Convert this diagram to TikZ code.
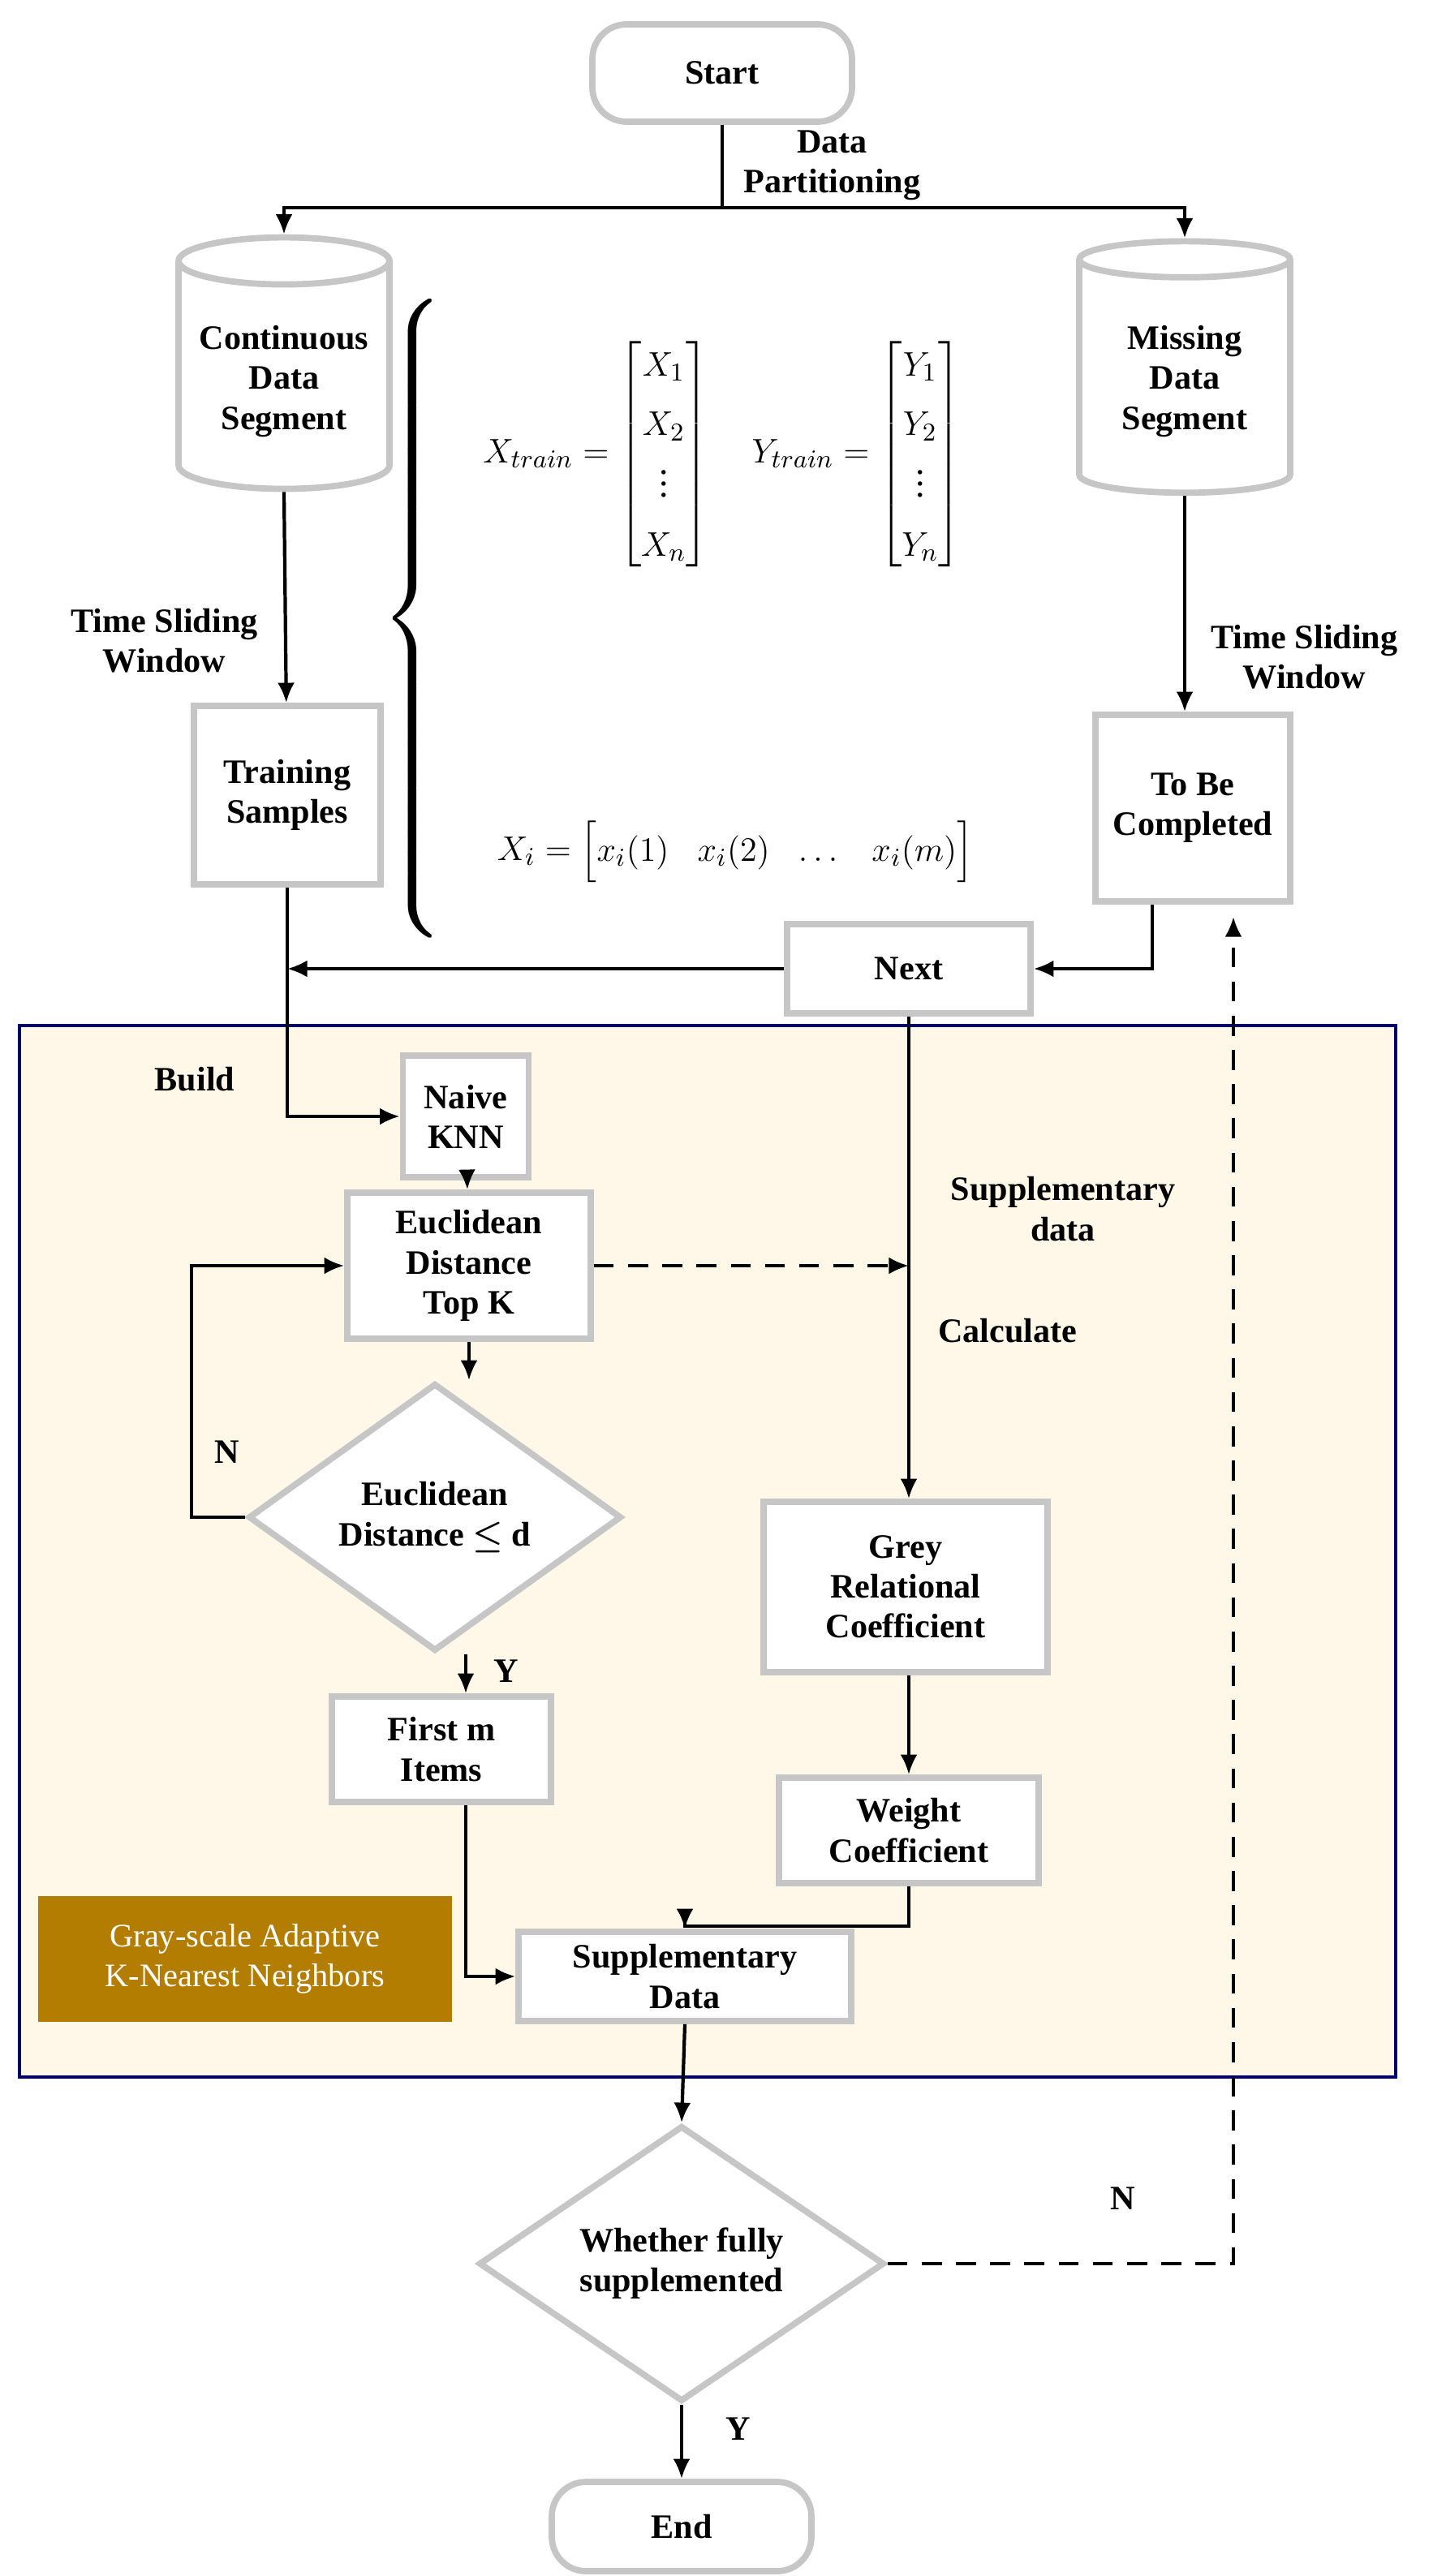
\documentclass[tikz,border=0pt]{standalone}
\usepackage{amsmath}
\usepackage{fontspec}
\setmainfont{Liberation Serif}
\usetikzlibrary{shapes.geometric,arrows.meta}
\tikzset{
  box/.style={draw=gray!45, line width=2.2pt, fill=white, align=center, font=\bfseries\fontsize{12}{14}\selectfont},
  term/.style={box, rounded corners=12pt},
  dec/.style={box, diamond, aspect=1.4, inner sep=1pt},
  db/.style={box, cylinder, shape border rotate=90, aspect=0.25},
  lbl/.style={font=\bfseries\fontsize{12}{14}\selectfont, align=center},
  arr/.style={-{Latex[length=7pt,width=6pt]}, line width=1.2pt},
  dasharr/.style={arr, dash pattern=on 7pt off 5pt}
}
\begin{document}
\begin{tikzpicture}[x=0.02cm,y=-0.02cm]
\useasboundingbox (0,0) rectangle (891,1587.5);
% panel
\draw[fill=yellow!40!orange!8, draw=blue!40!black, line width=1.2pt] (12,632) rectangle (860,1280);
\node[lbl] at (120,665) {Build};

% terminals and data
\node[term, minimum width=3.2cm, minimum height=1.2cm] (start) at (445,45) {Start};
\node[db, minimum width=2.6cm, minimum height=3.1cm] (cont) at (175,235) {Continuous\\Data\\Segment};
\node[db, minimum width=2.6cm, minimum height=3.1cm] (miss) at (730,235) {Missing\\Data\\Segment};
\coordinate (split) at (445,128);
\node[lbl, anchor=west] at (452,102) {Data\\Partitioning};
\draw[line width=1.2pt] (start) -- (split);
\draw[arr] (split) -| (cont.top);
\draw[arr] (split) -| (miss.top);

\node[box, minimum width=2.3cm, minimum height=2.2cm] (train) at (177,490) {Training\\Samples};
\node[box, minimum width=2.4cm, minimum height=2.3cm] (tbc) at (735,498) {To Be\\Completed};
\draw[arr] (cont.bottom) -- (train);
\draw[arr] (miss.bottom) -- (tbc.north -| miss.bottom);
\node[lbl, anchor=east] at (165,395) {Time Sliding\\Window};
\node[lbl, anchor=west] at (740,405) {Time Sliding\\Window};

% formulas
\node at (255,380) {\fontsize{40}{40}\selectfont$\left\{\vphantom{\rule{0pt}{4.2cm}}\right.$};
\node (mat) at (445,280) {\fontsize{13}{16}\selectfont\renewcommand{\arraystretch}{1.3}$X_{train}=\begin{bmatrix}X_1\\X_2\\\vdots\\X_n\end{bmatrix}\quad Y_{train}=\begin{bmatrix}Y_1\\Y_2\\\vdots\\Y_n\end{bmatrix}$};
\node (vec) at (453,525) {\fontsize{13}{16}\selectfont$X_i=\begin{bmatrix}x_i(1) & x_i(2) & \dots & x_i(m)\end{bmatrix}$};

\node[box, minimum width=3cm, minimum height=1.1cm] (next) at (560,597) {Next};
\draw[arr] (tbc.south -| 710,0) |- (next.east);
\coordinate (join) at (177,597);
\draw[arr] (next.west) -- (join);

% KNN branch
\node[box, minimum width=1.55cm, minimum height=1.5cm] (knn) at (287,688) {Naive\\KNN};
\draw[arr] (train.south) |- (knn.west);
\node[box, minimum width=3cm, minimum height=1.8cm] (eucl) at (289,780) {Euclidean\\Distance\\Top K};
\draw[arr] (knn) -- (eucl);
\node[dec, minimum width=4.6cm, minimum height=3.3cm] (cond) at (268,935) {Euclidean\\Distance $\boldsymbol{\leq}$ d};
\draw[arr] (eucl) -- (cond.north -| eucl);
\draw[arr] (cond.west) -- (118,935) |- (eucl.west);
\node[lbl] at (140,895) {N};
\node[box, minimum width=2.7cm, minimum height=1.3cm] (first) at (272,1078) {First m\\Items};
\draw[arr] (cond.south -| first.north -| 287,0) -- (first.north -| 287,0);
\node[lbl] at (312,1030) {Y};
\node[box, minimum width=4.1cm, minimum height=1.1cm] (supp) at (422,1218) {Supplementary\\Data};
\draw[arr] (first.south -| 287,0) |- (supp.west);
\node[fill=orange!60!yellow!70!black, text=white, align=center, minimum width=5.1cm, minimum height=1.55cm, font=\fontsize{11.5}{14}\selectfont] (gsk) at (151,1207) {Gray-scale Adaptive\\K-Nearest Neighbors};

% grey branch
\node[box, minimum width=3.5cm, minimum height=2.1cm] (grey) at (558,978) {Grey\\Relational\\Coefficient};
\draw[arr] (next.south) -- (grey.north -| next.south);
\coordinate (cross) at (560,780);
\draw[dasharr] (eucl.east) -- (cross);
\node[lbl, anchor=west] at (572,820) {Calculate};
\node[lbl] at (655,745) {Supplementary\\data};
\node[box, minimum width=3.2cm, minimum height=1.3cm] (weight) at (560,1128) {Weight\\Coefficient};
\draw[arr] (grey.south -| weight) -- (weight);
\draw[arr] (weight.south) -- (560,1187) -| (supp.north);

% final check
\node[dec, minimum width=5cm, minimum height=3.4cm] (full) at (420,1395) {Whether fully\\supplemented};
\draw[arr] (supp.south) -- (full.north);
\coordinate (back) at (760,565);
\draw[dasharr] (full.east) -- (760,1395) -- (back);
\node[lbl] at (692,1355) {N};
\node[term, minimum width=3.2cm, minimum height=1.1cm] (end) at (420,1557) {End};
\draw[arr] (full.south) -- (end.north);
\node[lbl] at (455,1497) {Y};
\end{tikzpicture}
\end{document}
